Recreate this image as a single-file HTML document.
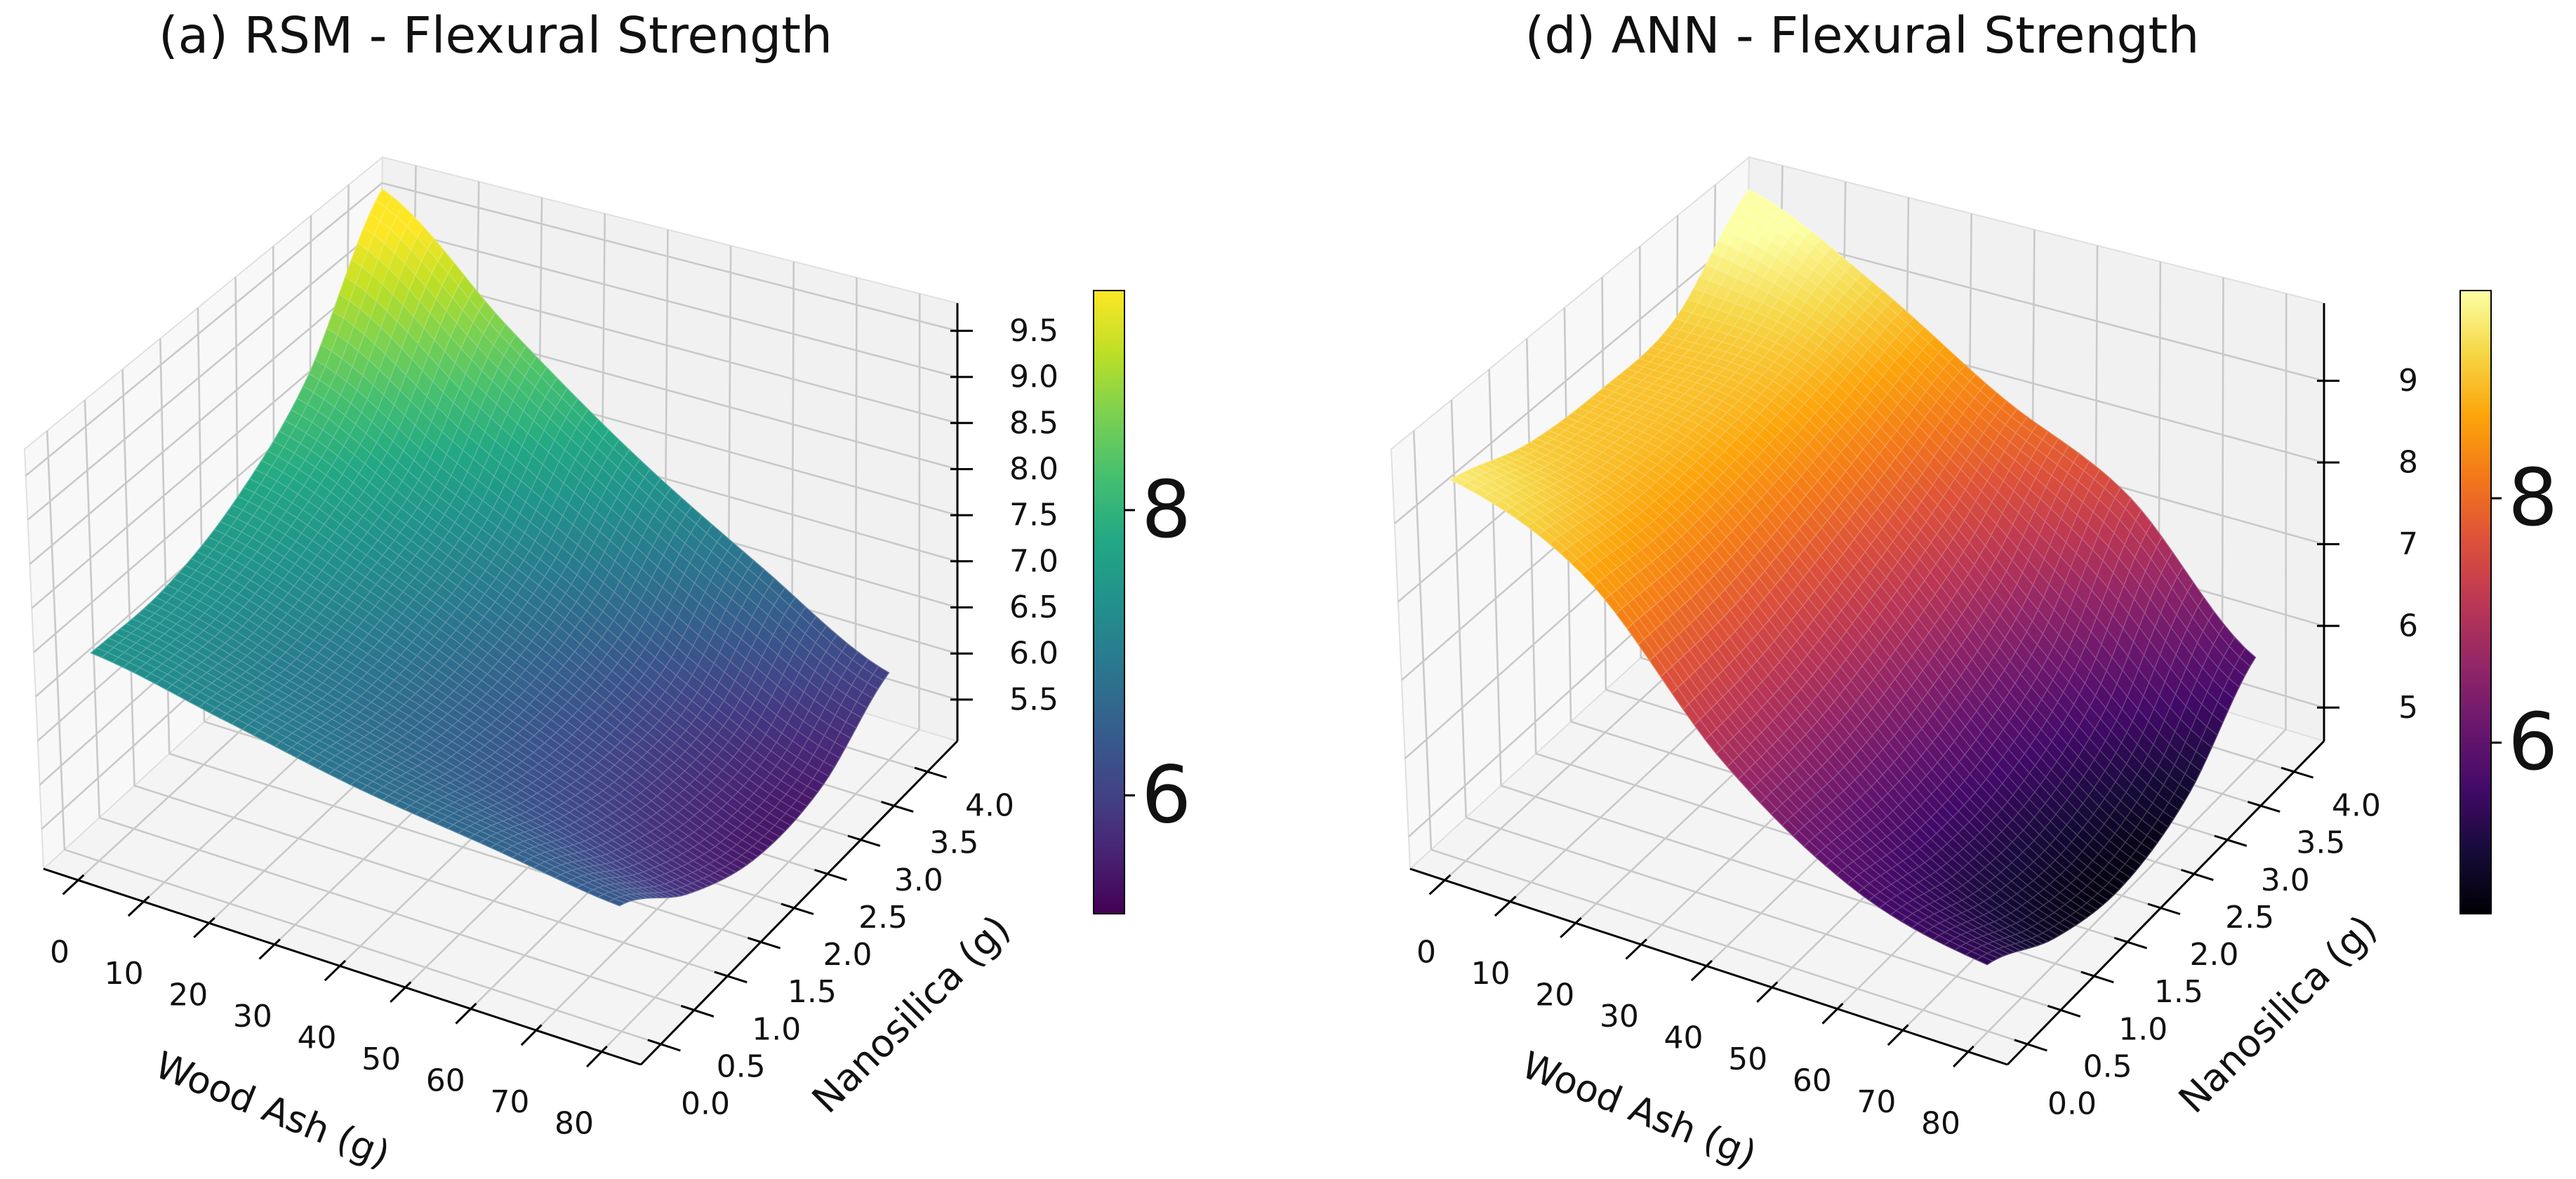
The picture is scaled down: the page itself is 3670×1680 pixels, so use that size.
<!DOCTYPE html>
<html><head><meta charset="utf-8"><title>Flexural Strength Surfaces</title>
<style>
html,body{margin:0;padding:0;background:#fff;}
svg{display:block;font-family:"DejaVu Sans","Liberation Sans",sans-serif;}
</style></head>
<body>
<svg id="fig" width="3670" height="1680" viewBox="0 0 3670 1680" xmlns="http://www.w3.org/2000/svg">
<defs id="defs"></defs>
<text x="706" y="75" font-size="71" text-anchor="middle" fill="#111">(a) RSM - Flexural Strength</text>
<text x="2653" y="75" font-size="71" text-anchor="middle" fill="#111">(d) ANN - Flexural Strength</text>
<g id="c0"></g>
<g id="c1"></g>
</svg>
<script>
// ---- data ----
const woodAsh = [0, 20, 40, 60, 80];
const nanosilica = [0, 1, 2, 3, 4];
// rows = nanosilica, cols = wood ash
const rsmValues = [
  [7.4, 7.1, 6.8, 6.6, 6.4],
  [7.4, 7.0, 6.6, 6.2, 5.8],
  [7.7, 7.2, 6.6, 6.0, 5.45],
  [8.4, 7.6, 6.9, 6.1, 5.5],
  [9.85, 8.65, 7.6, 6.75, 6.0]
];
const annValues = [
  [9.45, 8.7, 6.9, 5.8, 5.4],
  [9.1, 8.6, 7.0, 5.6, 4.9],
  [9.0, 8.7, 7.3, 5.7, 4.7],
  [9.1, 8.9, 7.7, 6.2, 5.0],
  [10.0, 9.2, 8.2, 7.4, 5.85]
];
const xTicks = [0, 10, 20, 30, 40, 50, 60, 70, 80];
const yTicks = [0, 0.5, 1, 1.5, 2, 2.5, 3, 3.5, 4];
const rsmZTicks = [5.5, 6.0, 6.5, 7.0, 7.5, 8.0, 8.5, 9.0, 9.5];
const annZTicks = [5, 6, 7, 8, 9];
const rsmColorTicks = [6, 8];
const annColorTicks = [6, 8];

const viridis = ['#440154','#482475','#414487','#355f8d','#2a788e','#21918c','#22a884','#44bf70','#7ad151','#bddf26','#fde725'];
const inferno = ['#000004','#160b39','#420a68','#6a176e','#932667','#bc3754','#dd513a','#f37819','#fca50a','#f6d746','#fcffa4'];

const NS = 'http://www.w3.org/2000/svg';
const XLIM = [-5.3, 86.0], YLIM = [-0.3, 4.45];
const C = {c000:[62,1238], c100:[913,1517], c010:[535,805], c110:[1364,1056],
           c001:[35,640], c101:[903,885], c011:[545,224], c111:[1364,432]};

function hex(h){return [parseInt(h.substr(1,2),16),parseInt(h.substr(3,2),16),parseInt(h.substr(5,2),16)];}
function cmapColor(cm, t, light){
  t = Math.max(0, Math.min(1, t));
  const p = t*(cm.length-1), i = Math.min(Math.floor(p), cm.length-2), f = p-i;
  const a = hex(cm[i]), b = hex(cm[i+1]);
  let c = a.map((v,k)=>v+(b[k]-v)*f);
  if (light) c = c.map(v=>v+(255-v)*light);
  return 'rgb('+c.map(v=>Math.round(v)).join(',')+')';
}
function cr(a,b,c,d,t){return 0.5*((2*b)+(-a+c)*t+(2*a-5*b+4*c-d)*t*t+(-a+3*b-3*c+d)*t*t*t);}
function sampleGrid(Z, x, y){
  const gx = (x - woodAsh[0])/(woodAsh[1]-woodAsh[0]);
  const gy = (y - nanosilica[0])/(nanosilica[1]-nanosilica[0]);
  const nc = woodAsh.length, nr = nanosilica.length;
  const i = Math.min(Math.floor(gx), nc-2), tx = gx - i;
  const j = Math.min(Math.floor(gy), nr-2), ty = gy - j;
  const get = (r,c)=>Z[Math.max(0,Math.min(nr-1,r))][Math.max(0,Math.min(nc-1,c))];
  const rows = [-1,0,1,2].map(d=>cr(get(j+d,i-1),get(j+d,i),get(j+d,i+1),get(j+d,i+2),tx));
  return cr(rows[0],rows[1],rows[2],rows[3],ty);
}
function mk(tag, parent){const e=document.createElementNS(NS,tag); parent.appendChild(e); return e;}

function drawChart(gid, off, Z, zlim, zTicks, zDec, zLabX, cm, clim, cTicks){
  const g = document.getElementById(gid);
  const P = (x,y,z)=>{
    const u=(x-XLIM[0])/(XLIM[1]-XLIM[0]), v=(y-YLIM[0])/(YLIM[1]-YLIM[0]), w=(z-zlim[0])/(zlim[1]-zlim[0]);
    const r=[0,1].map(k=>
      (1-w)*((1-v)*((1-u)*C.c000[k]+u*C.c100[k]) + v*((1-u)*C.c010[k]+u*C.c110[k])) +
      w*((1-v)*((1-u)*C.c001[k]+u*C.c101[k]) + v*((1-u)*C.c011[k]+u*C.c111[k])));
    return [r[0]+off, r[1]];
  };
  const pts = a=>a.map(p=>p[0].toFixed(1)+','+p[1].toFixed(1)).join(' ');
  const [x0,x1]=XLIM,[y0,y1]=YLIM,[z0,z1]=zlim;
  const panes = [
    ['floor-pane', [P(x0,y0,z0),P(x1,y0,z0),P(x1,y1,z0),P(x0,y1,z0)], '#f4f4f4'],
    ['left-pane', [P(x0,y0,z0),P(x0,y1,z0),P(x0,y1,z1),P(x0,y0,z1)], '#f8f8f8'],
    ['back-pane', [P(x0,y1,z0),P(x1,y1,z0),P(x1,y1,z1),P(x0,y1,z1)], '#f1f1f1']
  ];
  panes.forEach(pn=>{
    const e = mk('polygon', g);
    
    
    e.setAttribute('points', pts(pn[1])); e.setAttribute('fill', pn[2]);
    e.setAttribute('stroke', '#e0e0e0'); e.setAttribute('stroke-width', '2');
  });
  const line = (a,b,col,wid,name)=>{
    const e = mk('line', g);
    
    
    e.setAttribute('x1',a[0].toFixed(1)); e.setAttribute('y1',a[1].toFixed(1));
    e.setAttribute('x2',b[0].toFixed(1)); e.setAttribute('y2',b[1].toFixed(1));
    e.setAttribute('stroke',col); e.setAttribute('stroke-width',wid);
  };
  const GC = '#c9c9c9', GW = 2.6;
  xTicks.forEach(t=>{ line(P(t,y0,z0),P(t,y1,z0),GC,GW,'floor-grid-x'); line(P(t,y1,z0),P(t,y1,z1),GC,GW,'back-grid-x'); });
  yTicks.forEach(t=>{ line(P(x0,t,z0),P(x1,t,z0),GC,GW,'floor-grid-y'); line(P(x0,t,z0),P(x0,t,z1),GC,GW,'left-grid-y'); });
  zTicks.forEach(t=>{ line(P(x0,y0,t),P(x0,y1,t),GC,GW,'left-grid-z'); line(P(x0,y1,t),P(x1,y1,t),GC,GW,'back-grid-z'); });
  line(P(x0,y0,z0),P(x1,y0,z0),'#000',3,'x-axis-line');
  line(P(x1,y0,z0),P(x1,y1,z0),'#000',3,'y-axis-line');
  line(P(x1,y1,z0),P(x1,y1,z1),'#000',3,'z-axis-line');
  const txt = (s,x,y,fs,anchor,name,rot)=>{
    const e = mk('text', g);
    
    
    e.setAttribute('x',x.toFixed(1)); e.setAttribute('y',y.toFixed(1));
    e.setAttribute('font-size',fs); e.setAttribute('text-anchor',anchor);
    e.setAttribute('dominant-baseline','central'); e.setAttribute('fill','#111');
    if (rot) e.setAttribute('transform','rotate('+rot+' '+x.toFixed(1)+' '+y.toFixed(1)+')');
    e.textContent = s; return e;
  };
  xTicks.forEach(t=>{
    line(P(t,y0+0.08,z0),P(t,y0-0.22,z0),'#000',3,'x-tick');
    const f=(t-xTicks[0])/(xTicks[xTicks.length-1]-xTicks[0]);
    txt(String(t), 85+off+f*(818-85), 1357+f*(1601-1357), 44, 'middle', 'x-tick-label');
  });
  yTicks.forEach(t=>{
    line(P(x1-2,t,z0),P(x1+3,t,z0),'#000',3,'y-tick');
    const f=(t-yTicks[0])/(yTicks[yTicks.length-1]-yTicks[0]);
    txt(t.toFixed(1), 1005+off+f*(1410-1005), 1573+f*(1148-1573), 44, 'middle', 'y-tick-label');
  });
  zTicks.forEach(t=>{
    const p=P(x1,y1,t);
    line([p[0]-10,p[1]],[p[0]+22,p[1]],'#000',3,'z-tick');
    txt(t.toFixed(zDec), zLabX+off, p[1], 44, 'start', 'z-tick-label');
  });
  txt('Wood Ash (g)', 388+off, 1582, 53, 'middle', 'x-axis-title', 22);
  txt('Nanosilica (g)', 1298+off, 1445, 54, 'middle', 'y-axis-title', -45);
  // surface
  const N = 49, cells = [];
  const gx = i=>woodAsh[0]+(woodAsh[woodAsh.length-1]-woodAsh[0])*i/N;
  const gy = j=>nanosilica[0]+(nanosilica[nanosilica.length-1]-nanosilica[0])*j/N;
  const V = [];
  for (let j=0;j<=N;j++){ V.push([]); for (let i=0;i<=N;i++) V[j].push(sampleGrid(Z,gx(i),gy(j))); }
  for (let j=0;j<N;j++) for (let i=0;i<N;i++){
    const zc=(V[j][i]+V[j][i+1]+V[j+1][i]+V[j+1][i+1])/4;
    const xc=(gx(i)+gx(i+1))/2, yc=(gy(j)+gy(j+1))/2;
    const fx=(xc-x0)/(x1-x0), fy=(yc-y0)/(y1-y0), fz=(zc-z0)/(z1-z0);
    cells.push({i,j,zc,d:0.433*4*fx-0.75*4*fy+0.5*3*fz});
  }
  cells.sort((a,b)=>a.d-b.d);
  const sg = mk('g', g);
  
  
  cells.forEach(c=>{
    const {i,j}=c;
    const q=[P(gx(i),gy(j),V[j][i]),P(gx(i+1),gy(j),V[j][i+1]),P(gx(i+1),gy(j+1),V[j+1][i+1]),P(gx(i),gy(j+1),V[j+1][i])];
    const e = mk('polygon', sg);
    
    
    const t=(c.zc-clim[0])/(clim[1]-clim[0]);
    e.setAttribute('points', pts(q));
    e.setAttribute('fill', cmapColor(cm,t,0));
    e.setAttribute('stroke', cmapColor(cm,t,0.22));
    e.setAttribute('stroke-width', '1.3');
  });
  // colorbar
  const CBT = 414, CBH = 888;
  const defs = document.getElementById('defs');
  const lg = mk('linearGradient', defs);
  lg.setAttribute('id', 'grad'+gid); lg.setAttribute('x1','0'); lg.setAttribute('y1','1'); lg.setAttribute('x2','0'); lg.setAttribute('y2','0');
  cm.forEach((col,k)=>{ const s=mk('stop',lg); s.setAttribute('offset',(k/(cm.length-1)).toFixed(3)); s.setAttribute('stop-color',col); });
  const cb = mk('rect', g);
  
  
  cb.setAttribute('x', 1558+off); cb.setAttribute('y', CBT); cb.setAttribute('width', 44); cb.setAttribute('height', CBH);
  cb.setAttribute('fill', 'url(#grad'+gid+')'); cb.setAttribute('stroke','#000'); cb.setAttribute('stroke-width','2');
  cTicks.forEach(v=>{
    const y = CBT + CBH - (v-clim[0])/(clim[1]-clim[0])*CBH;
    line([1602+off,y],[1617+off,y],'#000',3,'colorbar-tick');
    txt(String(v), 1626+off, y, 112, 'start', 'colorbar-tick-label');
  });
}
drawChart('c0', 0, rsmValues, [5.05,9.8], rsmZTicks, 1, 1438, viridis, [5.17,9.54], rsmColorTicks);
drawChart('c1', 1947, annValues, [4.59,9.95], annZTicks, 0, 1470, inferno, [4.60,9.70], annColorTicks);
</script>
</body></html>
